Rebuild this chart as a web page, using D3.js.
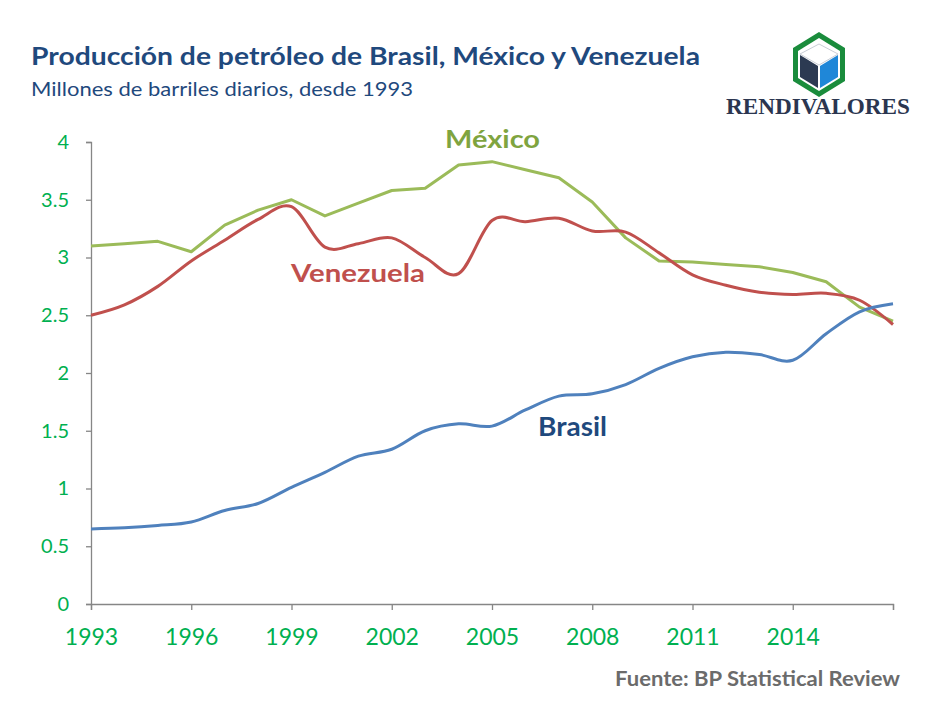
<!DOCTYPE html>
<html>
<head>
<meta charset="utf-8">
<script src="https://cdn.jsdelivr.net/npm/d3@7"></script>
<style>
  html, body { margin: 0; padding: 0; background: #fff; }
  svg { display: block; }
  text { font-family: Lato, "Open Sans", sans-serif; }
</style>
</head>
<body>
<svg id="chart" width="928" height="705"></svg>
<script>
const years = d3.range(1993, 2018);
const mexico = [3.10,3.12,3.14,3.05,3.28,3.41,3.50,3.36,3.47,3.58,3.60,3.80,3.83,3.76,3.69,3.48,3.17,2.97,2.96,2.94,2.92,2.87,2.79,2.57,2.45];
const venezuela = [2.50,2.59,2.75,2.97,3.15,3.33,3.44,3.09,3.12,3.17,3.00,2.86,3.32,3.31,3.34,3.23,3.22,3.04,2.85,2.76,2.70,2.68,2.69,2.63,2.42];
const brasil = [0.65,0.66,0.68,0.71,0.81,0.87,1.01,1.14,1.28,1.34,1.50,1.56,1.54,1.68,1.80,1.82,1.90,2.04,2.14,2.18,2.16,2.11,2.34,2.53,2.60];
const yTicks = [0, 0.5, 1, 1.5, 2, 2.5, 3, 3.5, 4];
const xTicks = [1993, 1996, 1999, 2002, 2005, 2008, 2011, 2014, 2017];
const xTickLabels = ["1993","1996","1999","2002","2005","2008","2011","2014",""];

const svg = d3.select("#chart");
const x = d3.scaleLinear().domain([1993, 2017]).range([91, 893]);
const y = d3.scaleLinear().domain([0, 4]).range([604, 142]);

const axisColor = "#868686";
const tickColor = "#00b050";

// Title
svg.append("text").attr("x", 31).attr("y", 65)
  .attr("font-size", 25).attr("font-weight", 700).attr("fill", "#1f497d")
  .attr("textLength", 669).attr("lengthAdjust", "spacingAndGlyphs")
  .text("Producción de petróleo de Brasil, México y Venezuela");
svg.append("text").attr("x", 31).attr("y", 96)
  .attr("font-size", 19.5).attr("fill", "#1f497d")
  .attr("textLength", 382).attr("lengthAdjust", "spacingAndGlyphs")
  .text("Millones de barriles diarios, desde 1993");

// Logo
const logo = svg.append("g");
logo.append("polygon")
  .attr("points", "819,32 845,48 845,81 819,97 793,81 793,48")
  .attr("fill", "#1a8c3c");
logo.append("polygon")
  .attr("points", "819,38 840,51 840,78 819,91 798,78 798,51")
  .attr("fill", "#ffffff");
logo.append("polygon") // top face
  .attr("points", "819,44 838,54 819,65 800,54")
  .attr("fill", "#ffffff").attr("stroke", "#c9ced6").attr("stroke-width", 1);
logo.append("polygon") // left face
  .attr("points", "800,55 818,66 818,88 800,77")
  .attr("fill", "#2c3a52");
logo.append("polygon") // right face
  .attr("points", "820,66 838,55 838,77 820,88")
  .attr("fill", "#1f87d8");
svg.append("text").attr("x", 726).attr("y", 114)
  .style("font-family", "'Liberation Serif', 'Times New Roman', serif")
  .attr("font-size", 24).attr("font-weight", 700).attr("fill", "#2b3650")
  .attr("textLength", 184).attr("lengthAdjust", "spacingAndGlyphs")
  .text("RENDIVALORES");

// Axes
const yAxis = d3.axisLeft(y).tickValues(yTicks).tickSize(5).tickPadding(17)
  .tickFormat(d3.format("~g"));
const gy = svg.append("g").attr("transform", "translate(91,0)").call(yAxis);
gy.select(".domain").attr("stroke", axisColor).attr("stroke-width", 1.3);
gy.selectAll(".tick line").attr("stroke", axisColor).attr("stroke-width", 1.3);
gy.selectAll(".tick text").attr("fill", tickColor).attr("font-size", 20)
  .style("font-family", "Lato, sans-serif");

const xAxis = d3.axisBottom(x).tickValues(xTicks).tickSize(6).tickPadding(19)
  .tickFormat((d, i) => xTickLabels[i]);
const gx = svg.append("g").attr("transform", "translate(0,604)").call(xAxis);
gx.select(".domain").attr("stroke", axisColor).attr("stroke-width", 1.3);
gx.selectAll(".tick line").attr("stroke", axisColor).attr("stroke-width", 1.3);
gx.selectAll(".tick text").attr("fill", tickColor).attr("font-size", 23)
  .style("font-family", "Lato, sans-serif");

// Lines
const smooth = d3.line().x((d, i) => x(years[i])).y(d => y(d)).curve(d3.curveCatmullRom.alpha(0));
const straight = d3.line().x((d, i) => x(years[i])).y(d => y(d));

svg.append("path").datum(mexico).attr("d", straight)
  .attr("fill", "none").attr("stroke", "#9bbb59").attr("stroke-width", 3).attr("stroke-linejoin", "round");
svg.append("path").datum(venezuela).attr("d", smooth)
  .attr("fill", "none").attr("stroke", "#c0504d").attr("stroke-width", 3).attr("stroke-linejoin", "round");
svg.append("path").datum(brasil).attr("d", smooth)
  .attr("fill", "none").attr("stroke", "#4f81bd").attr("stroke-width", 3).attr("stroke-linejoin", "round");

// Series labels
svg.append("text").attr("x", 445).attr("y", 148)
  .attr("font-size", 25).attr("font-weight", 700).attr("fill", "#7fa43f")
  .attr("textLength", 95).attr("lengthAdjust", "spacingAndGlyphs").text("México");
svg.append("text").attr("x", 291).attr("y", 282)
  .attr("font-size", 25).attr("font-weight", 700).attr("fill", "#c0504d")
  .attr("textLength", 134).attr("lengthAdjust", "spacingAndGlyphs").text("Venezuela");
svg.append("text").attr("x", 538).attr("y", 436)
  .attr("font-size", 26).attr("font-weight", 700).attr("fill", "#1f497d")
  .attr("textLength", 69).attr("lengthAdjust", "spacingAndGlyphs").text("Brasil");

// Source
svg.append("text").attr("x", 615).attr("y", 686)
  .attr("font-size", 21).attr("font-weight", 700).attr("fill", "#6b6b6b")
  .attr("textLength", 285).attr("lengthAdjust", "spacingAndGlyphs")
  .text("Fuente: BP Statistical Review");
</script>
</body>
</html>
